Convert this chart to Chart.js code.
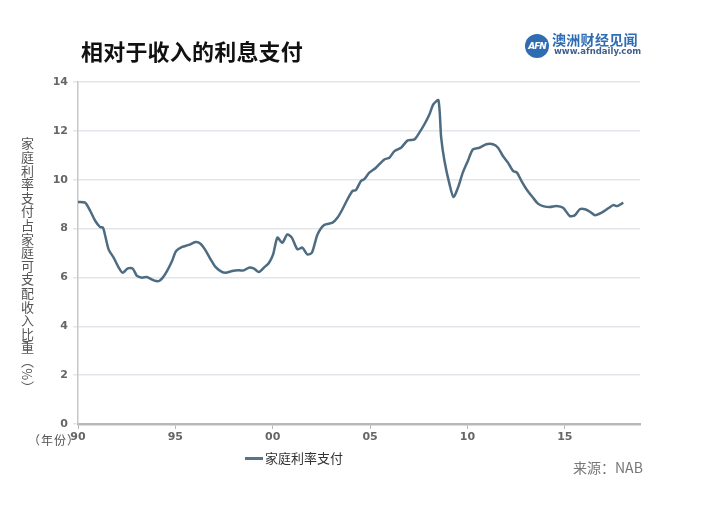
<!DOCTYPE html>
<html>
<head>
<meta charset="utf-8">
<script src="https://cdn.jsdelivr.net/npm/chart.js@4"></script>
<style>
  html, body { margin: 0; padding: 0; background: #fff; }
  body { width: 701px; height: 509px; position: relative; overflow: hidden; font-family: "Noto Sans CJK SC", "Noto Sans", sans-serif; }
  #chart-wrap { position: absolute; left: 0; top: 0; width: 701px; height: 509px; }
  .title { position: absolute; left: 81px; top: 35px; font-size: 22px; font-weight: bold; color: #111; line-height: 30px; letter-spacing: 0.2px; }
  .logo-circle { position: absolute; left: 525px; top: 34px; width: 24px; height: 24px; border-radius: 50%; background: #2f6db3; color: #fff; font: italic bold 9px "DejaVu Sans", sans-serif; text-align: center; line-height: 24px; letter-spacing: -1px; }
  .logo-cn { position: absolute; left: 552px; top: 30px; font-size: 14px; font-weight: bold; color: #2f6db3; line-height: 18px; letter-spacing: 0.3px; }
  .logo-url { position: absolute; left: 554px; top: 46px; font: bold 8.5px "DejaVu Sans", sans-serif; color: #3d5f8c; line-height: 11px; }
  .y-title { position: absolute; left: 19px; top: 137px; writing-mode: vertical-rl; font-size: 13px; color: #555; line-height: 16px; letter-spacing: 0.6px; }
  .year-unit { position: absolute; left: 28px; top: 431px; font-size: 12px; color: #555; line-height: 18px; letter-spacing: 1px; }
  .legend { position: absolute; left: 245px; top: 449px; font-size: 13px; color: #333; line-height: 18px; }
  .legend .swatch { display: inline-block; width: 18px; height: 3px; background: #56758b; vertical-align: middle; margin-right: 2px; position: relative; top: -1px; }
  .source { position: absolute; left: 573px; top: 457px; font-size: 14px; color: #777; line-height: 20px; }
</style>
</head>
<body>
<div id="chart-wrap"><canvas id="chart" width="701" height="509"></canvas></div>
<div class="title">相对于收入的利息支付</div>
<div class="logo-circle">AFN</div>
<div class="logo-cn">澳洲财经见闻</div>
<div class="logo-url">www.afndaily.com</div>
<div class="y-title">家庭利率支付占家庭可支配收入比重（%）</div>
<div class="year-unit">（年份）</div>
<div class="legend"><span class="swatch"></span>家庭利率支付</div>
<div class="source">来源：NAB</div>
<script>
const SERIES_LABEL = "家庭利率支付";
const LINE_COLOR = "#4d6c82";

// decimal year
const years = [
  1990.0, 1990.37, 1990.63, 1990.89, 1991.14, 1991.28, 1991.4, 1991.57, 1991.83, 1992.09,
  1992.29, 1992.56, 1992.81, 1993.03, 1993.29, 1993.54, 1993.89, 1994.15, 1994.32, 1994.57,
  1994.83, 1995.04, 1995.35, 1995.69, 1996.04, 1996.29, 1996.55, 1996.81, 1997.06, 1997.32,
  1997.58, 1997.92, 1998.26, 1998.52, 1998.78, 1999.04, 1999.29, 1999.55, 1999.81, 2000.02,
  2000.24, 2000.49, 2000.75, 2000.98, 2001.27, 2001.52, 2001.78, 2002.01, 2002.3, 2002.64,
  2003.07, 2003.33, 2003.58, 2003.84, 2004.1, 2004.27, 2004.53, 2004.7, 2004.96, 2005.3,
  2005.73, 2005.99, 2006.25, 2006.59, 2006.93, 2007.28, 2007.53, 2007.79, 2008.05, 2008.25,
  2008.51, 2008.65, 2008.82, 2009.08, 2009.28, 2009.51, 2009.76, 2010.02, 2010.28, 2010.62,
  2010.97, 2011.31, 2011.57, 2011.82, 2012.08, 2012.34, 2012.54, 2012.77, 2013.03, 2013.37,
  2013.62, 2013.88, 2014.23, 2014.57, 2014.91, 2015.26, 2015.52, 2015.77, 2016.03, 2016.29,
  2016.54, 2016.89, 2017.23, 2017.49, 2017.69, 2018.0,
];

// interest payments as % of household disposable income
const payments = [
  9.09, 9.06, 8.72, 8.31, 8.06, 8.04, 7.7, 7.15, 6.81, 6.4,
  6.19, 6.37, 6.36, 6.06, 5.99, 6.02, 5.88, 5.85, 5.96, 6.26,
  6.67, 7.08, 7.25, 7.33, 7.45, 7.38, 7.11, 6.74, 6.43, 6.26,
  6.19, 6.26, 6.29, 6.29, 6.4, 6.36, 6.22, 6.4, 6.6, 6.94,
  7.63, 7.42, 7.76, 7.63, 7.15, 7.22, 6.94, 7.01, 7.76, 8.15,
  8.24, 8.45, 8.79, 9.2, 9.54, 9.57, 9.95, 10.02, 10.29, 10.49,
  10.83, 10.9, 11.17, 11.31, 11.61, 11.65, 11.93, 12.27, 12.68, 13.09,
  13.25, 11.72, 10.77, 9.81, 9.29, 9.67, 10.29, 10.77, 11.24, 11.31,
  11.45, 11.45, 11.31, 10.97, 10.7, 10.36, 10.29, 9.95, 9.61, 9.26,
  9.02, 8.92, 8.88, 8.92, 8.85, 8.51, 8.55, 8.79, 8.79, 8.69,
  8.55, 8.65, 8.83, 8.96, 8.92, 9.06,
];

const yTicks = [0, 2, 4, 6, 8, 10, 12, 14];
const xTickYears = [1990, 1995, 2000, 2005, 2010, 2015];
const xTickLabels = ["90", "95", "00", "05", "10", "15"];

const X_MIN = 1990;
const X_MAX = 2018.86;

const tickFont = { family: '"DejaVu Sans", sans-serif', size: 11, weight: "bold" };

function initChart() {
  const Chart = window.Chart;
  if (!Chart) return;
  const points = years.map((y, i) => ({ x: y, y: payments[i] }));

  new Chart(document.getElementById("chart"), {
    type: "line",
    data: {
      datasets: [{
        label: SERIES_LABEL,
        data: points,
        borderColor: LINE_COLOR,
        borderWidth: 2.5,
        pointRadius: 0,
        tension: 0.25,
        fill: false,
      }],
    },
    options: {
      responsive: false,
      animation: false,
      layout: { padding: { left: 0, top: 82, right: 61, bottom: 0 } },
      plugins: { legend: { display: false }, tooltip: { enabled: false } },
      scales: {
        x: {
          type: "linear",
          min: X_MIN,
          max: X_MAX,
          afterFit(s) { s.height = 85; },
          afterBuildTicks(s) { s.ticks = xTickYears.map((v) => ({ value: v })); },
          ticks: {
            font: tickFont,
            color: "#666",
            padding: 2,
            maxRotation: 0,
            callback(v) {
              const i = xTickYears.indexOf(v);
              return i >= 0 ? xTickLabels[i] : "";
            },
          },
          grid: { display: true, drawOnChartArea: false, tickLength: 5, color: "#b8b8b8", lineWidth: 1 },
          border: { color: "#b8b8b8", width: 2.5 },
        },
        y: {
          min: 0,
          max: 14,
          afterFit(s) { s.width = 78; },
          afterBuildTicks(s) { s.ticks = yTicks.map((v) => ({ value: v })); },
          ticks: { font: tickFont, color: "#666", padding: 5 },
          grid: { color: "#e2e5ea", lineWidth: 1.5, tickLength: 5 },
          border: { color: "#c8c8c8", width: 1.5 },
        },
      },
    },
  });
}

initChart();
</script>
</body>
</html>
